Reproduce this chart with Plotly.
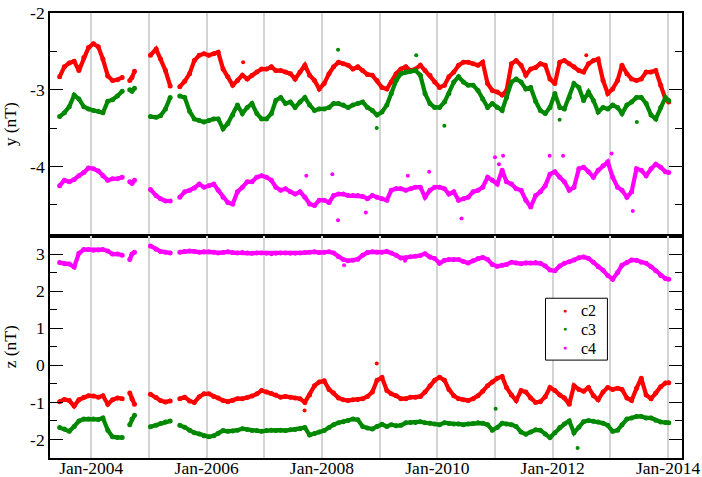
import plotly.graph_objects as go
from plotly.subplots import make_subplots

# ---- x positions (dates) ----
seg_a = [f"2003-{m:02d}-15" for m in range(6, 13)] + [f"2004-{m:02d}-15" for m in range(1, 8)]
seg_b = ["2004-09-01", "2004-09-15", "2004-10-01"]
seg_c = ["2005-01-10", "2005-02-15", "2005-03-15", "2005-04-15", "2005-05-15"]
seg_d = [f"2005-{m:02d}-15" for m in range(7, 13)] + \
        [f"{y}-{m:02d}-15" for y in range(2006, 2014) for m in range(1, 13)] + ["2014-01-05"]
dates = seg_a + ["2004-08-10"] + seg_b + ["2004-11-15"] + seg_c + ["2005-06-15"] + seg_d

# ---- y component (nT) ----
c2_y = [-2.83, -2.70, -2.65, -2.63, -2.75, -2.58, -2.45, -2.40, -2.44, -2.60, -2.82, -2.88, -2.87, -2.84,
        None, -2.88, -2.84, -2.76, None,
        -2.55, -2.47, -2.60, -2.75, -2.95, None,
        -2.96, -2.89, -2.79, -2.62, -2.55, -2.53,
        -2.55, -2.53, -2.51, -2.73, -2.83, -2.94, -2.88, -2.81, -2.86, -2.81, -2.77, -2.73,
        -2.73, -2.70, -2.75, -2.75, -2.77, -2.79, -2.86, -2.77, -2.68, -2.81, -2.88, -2.99,
        -2.92, -2.79, -2.70, -2.64, -2.66, -2.68, -2.73, -2.70, -2.75, -2.80, -2.81, -2.88,
        -2.97, -2.99, -2.90, -2.79, -2.73, -2.70, -2.75, -2.73, -2.68, -2.75, -2.81, -2.90,
        -2.97, -2.94, -2.83, -2.77, -2.68, -2.64, -2.64, -2.66, -2.68, -2.64, -2.92, -3.01,
        -3.03, -3.07, -3.01, -2.66, -2.62, -2.68, -2.81, -2.73, -2.71, -2.66, -2.68, -2.86,
        -2.92, -2.64, -2.62, -2.66, -2.70, -2.75, -2.77, -2.66, -2.62, -2.60, -2.88, -3.05,
        -2.99, -2.88, -2.68, -2.79, -2.86, -2.88, -2.86, -2.77, -2.77, -2.75, -2.94, -3.12,
        -3.16]
c3_y = [-3.35, -3.30, -3.22, -3.07, -3.12, -3.22, -3.25, -3.27, -3.28, -3.30, -3.15, -3.13, -3.08, -3.02,
        None, -3.00, -3.02, -2.98, None,
        -3.35, -3.36, -3.34, -3.25, -3.10, None,
        -3.08, -3.10, -3.28, -3.38, -3.40, -3.42,
        -3.40, -3.38, -3.38, -3.51, -3.44, -3.33, -3.20, -3.31, -3.23, -3.18, -3.31, -3.38,
        -3.38, -3.31, -3.14, -3.10, -3.18, -3.16, -3.23, -3.16, -3.10, -3.20, -3.27, -3.25,
        -3.25, -3.23, -3.18, -3.18, -3.20, -3.23, -3.20, -3.18, -3.16, -3.23, -3.27, -3.33,
        -3.29, -3.20, -3.05, -2.88, -2.79, -2.77, -2.76, -2.75, -2.81, -3.05, -3.18, -3.23,
        -3.23, -3.16, -3.05, -2.90, -2.83, -2.90, -2.94, -2.94, -3.01, -3.12, -3.23, -3.18,
        -3.23, -3.27, -3.10, -2.90, -2.86, -2.90, -2.99, -2.97, -3.15, -3.27, -3.31, -3.23,
        -3.05, -3.23, -3.25, -3.10, -2.92, -2.97, -3.14, -3.03, -3.14, -3.29, -3.23, -3.25,
        -3.20, -3.23, -3.31, -3.20, -3.16, -3.10, -3.10, -3.18, -3.33, -3.38, -3.23, -3.10,
        -3.14]
c4_y = [-4.25, -4.18, -4.20, -4.17, -4.12, -4.08, -4.02, -4.03, -4.06, -4.12, -4.18, -4.16, -4.16, -4.14,
        None, -4.20, -4.22, -4.18, None,
        -4.30, -4.38, -4.42, -4.45, -4.45, None,
        -4.40, -4.33, -4.31, -4.28, -4.23, -4.27,
        -4.25, -4.23, -4.31, -4.40, -4.47, -4.49, -4.33, -4.27, -4.20, -4.20, -4.14, -4.12,
        -4.14, -4.18, -4.27, -4.31, -4.29, -4.33, -4.36, -4.33, -4.40, -4.49, -4.51, -4.44,
        -4.44, -4.47, -4.38, -4.36, -4.36, -4.38, -4.38, -4.38, -4.39, -4.42, -4.38, -4.40,
        -4.42, -4.44, -4.31, -4.29, -4.29, -4.31, -4.29, -4.27, -4.27, -4.40, -4.31, -4.27,
        -4.27, -4.29, -4.36, -4.33, -4.44, -4.42, -4.40, -4.33, -4.31, -4.27, -4.14, -4.18,
        -4.23, -4.05, -4.20, -4.23, -4.29, -4.31, -4.44, -4.53, -4.38, -4.33, -4.25, -4.10,
        -4.07, -4.14, -4.20, -4.31, -4.27, -4.03, -4.01, -4.07, -4.14, -4.05, -3.99, -3.94,
        -4.14, -4.27, -4.31, -4.40, -4.33, -4.03, -4.05, -4.12, -4.03, -3.97, -4.01, -4.07,
        -4.08]

# ---- z component (nT) ----
c2_z = [-0.98, -0.92, -0.95, -1.10, -0.93, -0.86, -0.82, -0.83, -0.86, -0.82, -1.05, -0.93, -0.88, -0.90,
        None, -0.75, -0.90, -1.05, None,
        -0.78, -0.87, -0.95, -0.99, -0.96, None,
        -0.90, -0.86, -0.96, -1.00, -0.85, -0.77,
        -0.77, -0.84, -0.88, -0.95, -0.98, -0.95, -0.90, -0.90, -0.87, -0.83, -0.77, -0.68,
        -0.72, -0.76, -0.80, -0.86, -0.84, -0.86, -0.88, -0.90, -1.00, -0.80, -0.55, -0.45,
        -0.42, -0.65, -0.75, -0.88, -0.93, -0.95, -0.93, -0.92, -0.90, -0.84, -0.72, -0.40,
        -0.33, -0.68, -0.77, -0.82, -0.90, -0.90, -0.86, -0.86, -0.84, -0.72, -0.55, -0.40,
        -0.32, -0.40, -0.65, -0.82, -0.90, -0.93, -0.95, -0.90, -0.82, -0.70, -0.55, -0.45,
        -0.35, -0.30, -0.60, -0.80, -0.95, -0.68, -0.72, -0.88, -1.00, -0.98, -0.85, -0.60,
        -0.68, -0.80, -0.88, -1.05, -0.55, -0.65, -0.70, -0.60, -0.82, -0.93, -0.72, -0.60,
        -0.65, -0.62, -0.65, -0.88, -0.95, -0.62, -0.35, -0.80, -0.90, -0.75, -0.58, -0.48,
        -0.47]
c3_z = [-1.68, -1.72, -1.78, -1.65, -1.50, -1.45, -1.45, -1.45, -1.46, -1.42, -1.75, -1.93, -1.95, -1.95,
        None, -1.60, -1.45, -1.35, None,
        -1.66, -1.62, -1.57, -1.53, -1.50, None,
        -1.62, -1.67, -1.75, -1.82, -1.85, -1.90,
        -1.93, -1.90, -1.83, -1.76, -1.78, -1.77, -1.75, -1.71, -1.73, -1.76, -1.76, -1.78,
        -1.76, -1.75, -1.76, -1.75, -1.76, -1.74, -1.73, -1.71, -1.68, -1.88, -1.84, -1.80,
        -1.76, -1.68, -1.60, -1.55, -1.52, -1.49, -1.45, -1.47, -1.65, -1.69, -1.72, -1.65,
        -1.59, -1.65, -1.60, -1.63, -1.62, -1.55, -1.54, -1.54, -1.52, -1.55, -1.56, -1.58,
        -1.60, -1.55, -1.57, -1.58, -1.58, -1.60, -1.58, -1.57, -1.55, -1.56, -1.60, -1.75,
        -1.68, -1.56, -1.58, -1.60, -1.65, -1.80, -1.86, -1.80, -1.74, -1.75, -1.85, -1.95,
        -1.82, -1.68, -1.58, -1.50, -1.82, -1.67, -1.52, -1.49, -1.51, -1.53, -1.56, -1.62,
        -1.78, -1.75, -1.60, -1.45, -1.42, -1.38, -1.38, -1.42, -1.42, -1.48, -1.53, -1.54,
        -1.55]
c4_z = [2.77, 2.74, 2.73, 2.65, 3.02, 3.12, 3.12, 3.10, 3.11, 3.12, 3.08, 3.00, 3.00, 2.97,
        None, 2.85, 3.00, 3.05, None,
        3.22, 3.13, 3.07, 3.05, 3.03, None,
        3.05, 3.07, 3.08, 3.07, 3.05, 3.06,
        3.06, 3.05, 3.03, 3.04, 3.06, 3.04, 3.03, 3.04, 3.03, 3.02, 3.03, 3.03,
        3.02, 3.01, 3.02, 3.03, 3.03, 3.02, 3.02, 3.03, 3.04, 3.05, 3.06, 3.04,
        3.05, 3.06, 3.03, 2.93, 2.85, 2.82, 2.83, 2.86, 2.97, 3.04, 3.06, 3.05,
        3.05, 3.07, 3.03, 2.97, 2.89, 2.90, 2.93, 2.94, 2.96, 3.01, 2.92, 2.88,
        2.75, 2.83, 2.85, 2.85, 2.85, 2.80, 2.76, 2.82, 2.88, 2.91, 2.85, 2.72,
        2.67, 2.70, 2.72, 2.78, 2.76, 2.74, 2.76, 2.76, 2.77, 2.75, 2.68, 2.57,
        2.55, 2.68, 2.75, 2.79, 2.84, 2.90, 2.92, 2.88, 2.78, 2.66, 2.56, 2.42,
        2.32, 2.50, 2.70, 2.77, 2.84, 2.83, 2.78, 2.75, 2.66, 2.55, 2.42, 2.34,
        2.32]

# ---- isolated outlying points ----
c2_y_out_d, c2_y_out_v = ["2006-08-20", "2012-08-01"], [-2.64, -2.55]
c3_y_out_d = ["2008-04-12", "2008-12-13", "2010-02-14", "2012-02-14", "2013-06-17", "2009-08-20"]
c3_y_out_v = [-2.48, -3.50, -3.47, -3.39, -3.42, -2.55]
c4_y_out_d = ["2011-01-01", "2011-02-21", "2011-01-26", "2009-11-10", "2009-06-28", "2011-12-13",
              "2012-03-07", "2013-01-08", "2013-05-22", "2007-09-24", "2008-03-07", "2008-04-12",
              "2008-10-05", "2010-06-03"]
c4_y_out_v = [-3.88, -3.86, -3.97, -4.07, -4.12, -3.86, -3.86, -3.83, -4.58, -4.12, -4.10, -4.70,
              -4.60, -4.68]
c2_z_out_d, c2_z_out_v = ["2008-12-13", "2007-09-13"], [0.05, -1.22]
c3_z_out_d, c3_z_out_v = ["2012-06-07", "2011-01-05"], [-2.23, -1.17]
c4_z_out_d, c4_z_out_v = ["2008-05-20", "2009-06-10"], [2.70, 2.82]

names = ["c2", "c3", "c4"]
colors = ["#ff0000", "#008800", "#ff00ff"]

x_tickvals = [f"{y}-01-01" for y in range(2004, 2015)]
x_ticktext = [f"Jan-{y}" if y % 2 == 0 else "" for y in range(2004, 2015)]

FONT = "Liberation Serif, Times New Roman, serif"
FS = 17.5
fig = make_subplots(rows=2, cols=1, shared_xaxes=True, vertical_spacing=0)

panels = (
    (1, [c2_y, c3_y, c4_y], [(c2_y_out_d, c2_y_out_v), (c3_y_out_d, c3_y_out_v), (c4_y_out_d, c4_y_out_v)]),
    (2, [c2_z, c3_z, c4_z], [(c2_z_out_d, c2_z_out_v), (c3_z_out_d, c3_z_out_v), (c4_z_out_d, c4_z_out_v)]),
)
for row, series, outs in panels:
    for name, col, vals, (od, ov) in zip(names, colors, series, outs):
        fig.add_trace(go.Scatter(x=dates, y=vals, mode="lines", line=dict(color=col, width=4.2),
                                 connectgaps=False, showlegend=False, hoverinfo="skip"),
                      row=row, col=1)
        fig.add_trace(go.Scatter(x=dates, y=vals, mode="markers", name=name,
                                 marker=dict(color=col, size=5), showlegend=False),
                      row=row, col=1)
        fig.add_trace(go.Scatter(x=od, y=ov, mode="markers", name=name,
                                 marker=dict(color=col, size=4), showlegend=False),
                      row=row, col=1)

xcommon = dict(type="date", range=["2003-04-15", "2014-03-30"], tickvals=x_tickvals,
               showgrid=True, gridcolor="#d4d4d4", gridwidth=1.5, showline=True,
               linecolor="black", linewidth=1.6, mirror=True, ticks="", zeroline=False,
               automargin=False, tickfont=dict(family=FONT, size=FS, color="black"))
fig.update_xaxes(**xcommon, showticklabels=False, row=1, col=1)
fig.update_xaxes(**xcommon, showticklabels=True, ticktext=x_ticktext, ticklabelstandoff=-7,
                 ticklabeloverflow="allow", row=2, col=1)

ycommon = dict(showline=True, linecolor="black", linewidth=1.6, mirror="ticks",
               ticks="inside", ticklen=13, tickcolor="black", tickwidth=1.3,
               showgrid=False, zeroline=False, ticklabeloverflow="allow",
               automargin=False, tickfont=dict(family=FONT, size=FS, color="black"))
fig.update_yaxes(**ycommon, range=[-4.9, -1.9995], tickvals=[-2, -3, -4], ticktext=["-2", "-3", "-4"],
                 minor=dict(tickvals=[-2.5, -3.5, -4.5], ticks="inside", ticklen=7, tickcolor="black"),
                 title=dict(text="y (nT)", font=dict(family=FONT, size=FS, color="black"), standoff=10),
                 row=1, col=1)
fig.update_yaxes(**ycommon, range=[-2.5, 3.5], tickvals=[-2, -1, 0, 1, 2, 3],
                 ticktext=["-2", "-1", "0", "1", "2", "3"],
                 minor=dict(tickvals=[-1.5, -0.5, 0.5, 1.5, 2.5], ticks="inside", ticklen=7, tickcolor="black"),
                 title=dict(text="z (nT)", font=dict(family=FONT, size=FS, color="black"), standoff=10),
                 row=2, col=1)

# legend box drawn in paper coordinates (inside the lower panel)
fig.add_shape(type="rect", xref="paper", yref="paper", x0=0.784, x1=0.882, y0=0.220, y1=0.359,
              line=dict(color="black", width=1), fillcolor="white", layer="above")
leg_y = [0.331, 0.289, 0.247]
for name, col, ly in zip(names, colors, leg_y):
    fig.add_annotation(xref="paper", yref="paper", x=0.815, y=ly, text="●", showarrow=False,
                       font=dict(size=7, color=col), xanchor="center", yanchor="middle")
    fig.add_annotation(xref="paper", yref="paper", x=0.839, y=ly, text=name, showarrow=False,
                       font=dict(family=FONT, size=16, color="black"), xanchor="left", yanchor="middle",
                       borderpad=0)

fig.update_layout(
    width=702, height=477, autosize=False,
    margin=dict(l=50, r=20, t=13, b=19),
    paper_bgcolor="white", plot_bgcolor="white",
    font=dict(family=FONT, size=FS, color="black"),
    showlegend=False,
)

fig.write_html("out.html", config={"displayModeBar": False},
               post_script="document.body.style.margin='0px';document.body.style.overflow='hidden';")
